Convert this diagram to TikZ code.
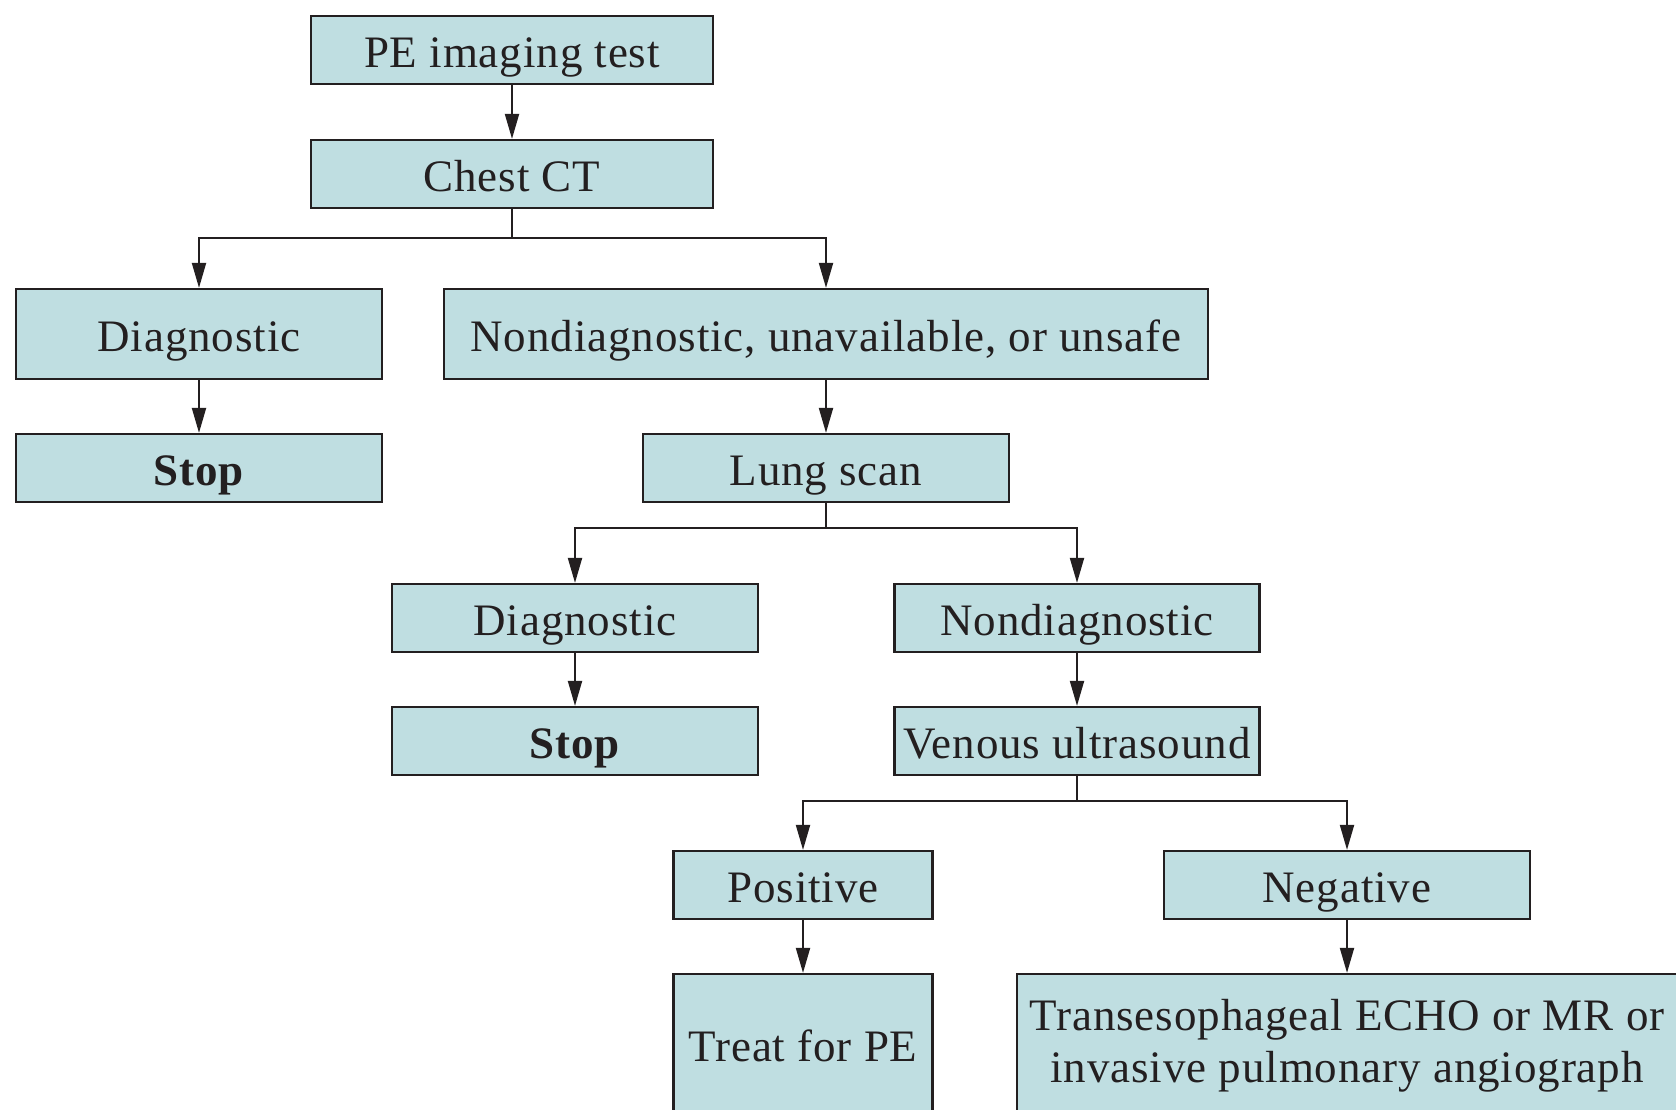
\documentclass[tikz,border=0pt]{standalone}
\usepackage{fontspec}
\setmainfont{Liberation Serif}[LetterSpace=2]
\usetikzlibrary{arrows.meta}
\definecolor{boxfill}{RGB}{191,222,225}
\definecolor{ink}{RGB}{35,31,32}
\begin{document}
\begin{tikzpicture}[x=1pt,y=-1pt,
  box/.style={draw=ink,fill=boxfill,line width=2.2pt,inner sep=0pt,
    align=center,text=ink,font=\fontsize{45}{52}\selectfont},
  oneline/.style={box,text height=35pt,text depth=0pt},
  arr/.style={draw=ink,line width=2pt,-{Triangle[length=25pt,width=14pt]}},
  ln/.style={draw=ink,line width=2pt}]
\useasboundingbox (0,0) rectangle (1676,1110);
\clip (0,0) rectangle (1676,1110);

% first level
\node[oneline,minimum width=402pt,minimum height=68pt] (pe) at (512,50) {PE imaging test};
\node[oneline,minimum width=402pt,minimum height=68pt] (ct) at (512,174) {Chest CT};
\node[oneline,minimum width=366pt,minimum height=90pt] (d1) at (199,334) {Diagnostic};
\node[oneline,minimum width=764pt,minimum height=90pt] (nd1) at (826,334) {Nondiagnostic, unavailable, or unsafe};
\node[oneline,minimum width=366pt,minimum height=68pt] (s1) at (199,468) {\textbf{Stop}};
\node[oneline,minimum width=366pt,minimum height=68pt] (ls) at (826,468) {Lung scan};

% second level
\node[oneline,minimum width=366pt,minimum height=68pt] (d2) at (575,618) {Diagnostic};
\node[oneline,minimum width=365pt,minimum height=68pt] (nd2) at (1077,618) {Nondiagnostic};
\node[oneline,minimum width=366pt,minimum height=68pt] (s2) at (575,741) {\textbf{Stop}};
\node[oneline,minimum width=365pt,minimum height=68pt] (vu) at (1077,741) {Venous ultrasound};

% third level
\node[oneline,minimum width=259pt,minimum height=68pt] (pos) at (803,885) {Positive};
\node[oneline,minimum width=366pt,minimum height=68pt] (neg) at (1347,885) {Negative};
\node[box,minimum width=259pt,minimum height=144pt] (tr) at (803,1046) {Treat for PE};
\node[box,minimum width=660pt,minimum height=144pt] (te) at (1347,1046)
  {Transesophageal ECHO or MR or\\invasive pulmonary angiograph};

% branch points
\coordinate (j1) at (512,238);
\coordinate (j2) at (826,528);
\coordinate (j3) at (1077,801);

% connectors
\draw[arr] (pe) -- (ct);
\draw[ln] (ct) -- (j1);
\draw[arr] (j1) -| (d1);
\draw[arr] (j1) -| (nd1);
\draw[arr] (d1) -- (s1);
\draw[arr] (nd1) -- (ls);
\draw[ln] (ls) -- (j2);
\draw[arr] (j2) -| (d2);
\draw[arr] (j2) -| (nd2);
\draw[arr] (d2) -- (s2);
\draw[arr] (nd2) -- (vu);
\draw[ln] (vu) -- (j3);
\draw[arr] (j3) -| (pos);
\draw[arr] (j3) -| (neg);
\draw[arr] (pos) -- (tr);
\draw[arr] (neg) -- (te);
\end{tikzpicture}
\end{document}
